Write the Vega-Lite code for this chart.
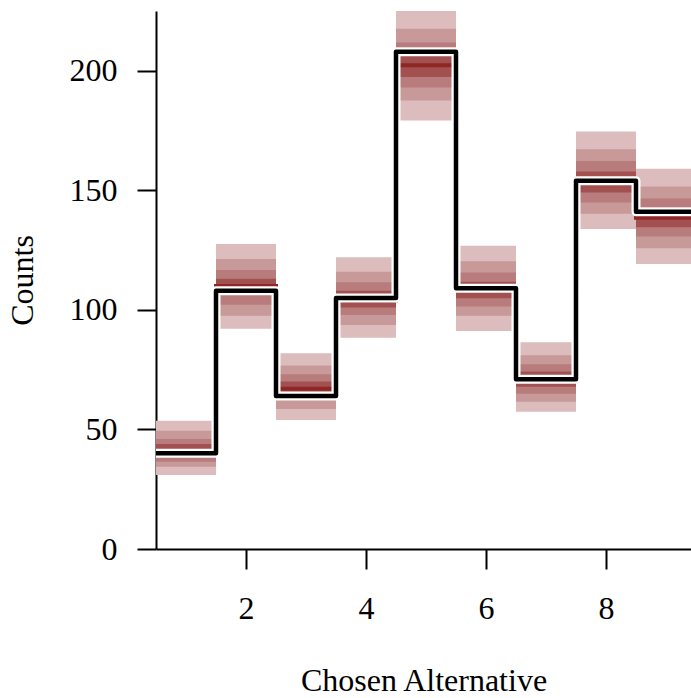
{
  "$schema": "https://vega.github.io/schema/vega-lite/v6.json",
  "width": 535,
  "height": 538,
  "autosize": {"type": "none"},
  "padding": {"left": 156, "top": 11, "right": 0, "bottom": 149},
  "background": "white",
  "config": {
    "view": {"stroke": null},
    "font": "Liberation Serif",
    "axis": {
      "grid": false,
      "domainColor": "black",
      "domainWidth": 2,
      "tickColor": "black",
      "tickWidth": 2,
      "labelFont": "Liberation Serif",
      "labelFontSize": 32,
      "labelColor": "black",
      "titleFont": "Liberation Serif",
      "titleFontSize": 32,
      "titleFontWeight": "normal",
      "titleColor": "black"
    }
  },
  "data": {
    "values": [
      {"alt": 1, "lo": 0.5, "hi": 1.5, "obs": 40, "q10": 31.0, "q20": 34.4, "q30": 36.5, "q40": 39.0, "q50": 41.0, "q60": 43.9, "q70": 46.0, "q80": 49.5, "q90": 53.6},
      {"alt": 2, "lo": 1.5, "hi": 2.5, "obs": 108, "q10": 92.1, "q20": 97.5, "q30": 102.1, "q40": 107.0, "q50": 110.0, "q60": 113.0, "q70": 116.7, "q80": 121.3, "q90": 127.6},
      {"alt": 3, "lo": 2.5, "hi": 3.5, "obs": 64, "q10": 54.0, "q20": 58.6, "q30": 62.5, "q40": 65.0, "q50": 67.0, "q60": 70.0, "q70": 73.1, "q80": 76.7, "q90": 81.9},
      {"alt": 4, "lo": 3.5, "hi": 4.5, "obs": 105, "q10": 88.4, "q20": 93.7, "q30": 97.9, "q40": 101.0, "q50": 104.0, "q60": 108.0, "q70": 111.6, "q80": 116.0, "q90": 122.0},
      {"alt": 5, "lo": 4.5, "hi": 5.5, "obs": 208, "q10": 179.2, "q20": 187.6, "q30": 193.0, "q40": 197.4, "q50": 202.3, "q60": 209.8, "q70": 211.8, "q80": 217.6, "q90": 227.0},
      {"alt": 6, "lo": 5.5, "hi": 6.5, "obs": 109, "q10": 91.2, "q20": 97.5, "q30": 101.4, "q40": 104.9, "q50": 109.0, "q60": 111.8, "q70": 115.6, "q80": 120.3, "q90": 126.8},
      {"alt": 7, "lo": 6.5, "hi": 7.5, "obs": 71, "q10": 57.4, "q20": 61.6, "q30": 64.9, "q40": 67.9, "q50": 70.5, "q60": 74.2, "q70": 77.3, "q80": 81.0, "q90": 86.5},
      {"alt": 8, "lo": 7.5, "hi": 8.5, "obs": 154, "q10": 133.8, "q20": 140.2, "q30": 144.9, "q40": 149.1, "q50": 154.0, "q60": 157.9, "q70": 162.3, "q80": 167.2, "q90": 174.6},
      {"alt": 9, "lo": 8.5, "hi": 9.5, "obs": 141, "q10": 119.2, "q20": 125.8, "q30": 130.7, "q40": 134.6, "q50": 138.5, "q60": 143.0, "q70": 146.6, "q80": 151.6, "q90": 159.0}
    ]
  },
  "layer": [
    {
      "mark": {"type": "rect", "color": "#DCBCBC", "clip": true},
      "encoding": {
        "x": {
          "field": "lo", "type": "quantitative",
          "scale": {"domain": [0.5, 9.4167], "nice": false, "zero": false},
          "axis": {"values": [2, 4, 6, 8], "format": "d", "tickSize": 20, "labelPadding": 24, "title": "Chosen Alternative", "titlePadding": 41}
        },
        "x2": {"field": "hi"},
        "y": {
          "field": "q10", "type": "quantitative",
          "scale": {"domain": [0, 225], "nice": false},
          "axis": {"values": [0, 50, 100, 150, 200], "format": "d", "tickSize": 19, "labelPadding": 20, "title": "Counts", "titlePadding": 30}
        },
        "y2": {"field": "q90"}
      }
    },
    {
      "mark": {"type": "rect", "color": "#C79999", "clip": true},
      "encoding": {
        "x": {"field": "lo", "type": "quantitative"},
        "x2": {"field": "hi"},
        "y": {"field": "q20", "type": "quantitative"},
        "y2": {"field": "q80"}
      }
    },
    {
      "mark": {"type": "rect", "color": "#B97C7C", "clip": true},
      "encoding": {
        "x": {"field": "lo", "type": "quantitative"},
        "x2": {"field": "hi"},
        "y": {"field": "q30", "type": "quantitative"},
        "y2": {"field": "q70"}
      }
    },
    {
      "mark": {"type": "rect", "color": "#A25050", "clip": true},
      "encoding": {
        "x": {"field": "lo", "type": "quantitative"},
        "x2": {"field": "hi"},
        "y": {"field": "q40", "type": "quantitative"},
        "y2": {"field": "q60"}
      }
    },
    {
      "transform": [{"fold": ["lo", "hi"], "as": ["side", "edge"]}],
      "mark": {"type": "line", "color": "#8F2727", "strokeWidth": 4, "clip": true},
      "encoding": {
        "x": {"field": "edge", "type": "quantitative"},
        "y": {"field": "q50", "type": "quantitative"},
        "order": [{"field": "edge", "type": "quantitative"}, {"field": "alt", "type": "quantitative"}]
      }
    },
    {
      "transform": [{"fold": ["lo", "hi"], "as": ["side", "edge"]}],
      "mark": {"type": "line", "color": "white", "strokeWidth": 9, "strokeJoin": "round", "clip": true},
      "encoding": {
        "x": {"field": "edge", "type": "quantitative"},
        "y": {"field": "obs", "type": "quantitative"},
        "order": [{"field": "edge", "type": "quantitative"}, {"field": "alt", "type": "quantitative"}]
      }
    },
    {
      "transform": [{"fold": ["lo", "hi"], "as": ["side", "edge"]}],
      "mark": {"type": "line", "color": "black", "strokeWidth": 4.5, "strokeJoin": "round", "clip": true},
      "encoding": {
        "x": {"field": "edge", "type": "quantitative"},
        "y": {"field": "obs", "type": "quantitative"},
        "order": [{"field": "edge", "type": "quantitative"}, {"field": "alt", "type": "quantitative"}]
      }
    }
  ]
}
